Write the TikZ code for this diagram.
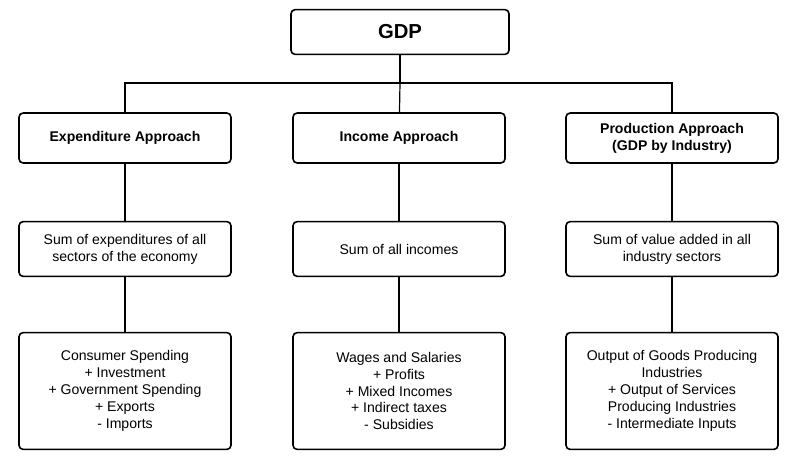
\documentclass[tikz,border=0pt]{standalone}
\usepackage{fontspec}
\setmainfont{Liberation Sans}
\begin{document}
\begin{tikzpicture}[x=0.025cm, y=-0.025cm,
    box/.style={draw, line width=0.4mm, rounded corners=3pt, align=center,
      minimum width=5.3cm, inner sep=2pt},
    link/.style={line width=0.3mm}]
    \useasboundingbox (0,0) rectangle (800,461);
    
    \node[box, minimum width=5.45cm, minimum height=1.12cm, font=\Large\bfseries] (gdp) at (400, 32) {GDP};
    \coordinate (split) at (400, 83);
    
    % approaches
    \node[box, minimum height=1.25cm, font=\bfseries] (expend) at (125, 138) {Expenditure Approach};
    \node[box, minimum height=1.25cm, font=\bfseries] (income) at (399, 138) {Income Approach};
    \node[box, minimum height=1.25cm, font=\bfseries] (product) at (672, 138) {Production Approach\\(GDP by Industry)};
    
    % sums
    \node[box, minimum height=1.37cm] (expsum) at (125, 249) {Sum of expenditures of all\\sectors of the economy};
    \node[box, minimum height=1.37cm] (incsum) at (399, 249) {Sum of all incomes};
    \node[box, minimum height=1.37cm] (prodsum) at (672, 249) {Sum of value added in all\\industry sectors};
    
    % components
    \node[box, minimum height=2.92cm] (expcomp) at (125, 391) {Consumer Spending\\+ Investment\\+ Government Spending\\+ Exports\\- Imports};
    \node[box, minimum height=2.92cm] (inccomp) at (399, 391) {Wages and Salaries\\+ Profits\\+ Mixed Incomes\\+ Indirect taxes\\- Subsidies};
    \node[box, minimum height=2.92cm] (prodcomp) at (672, 391) {Output of Goods Producing\\Industries\\+ Output of Services\\Producing Industries\\- Intermediate Inputs};
    
    \draw[link] (gdp) -- (split);
    \draw[link] (expend.north) |- (split) -| (product.north);
    \draw[link] (split) -- (income);
    \foreach \a/\b in {expend/expsum, income/incsum, product/prodsum,
                       expsum/expcomp, incsum/inccomp, prodsum/prodcomp}
      \draw[link] (\a) -- (\b);
\end{tikzpicture}
\end{document}
